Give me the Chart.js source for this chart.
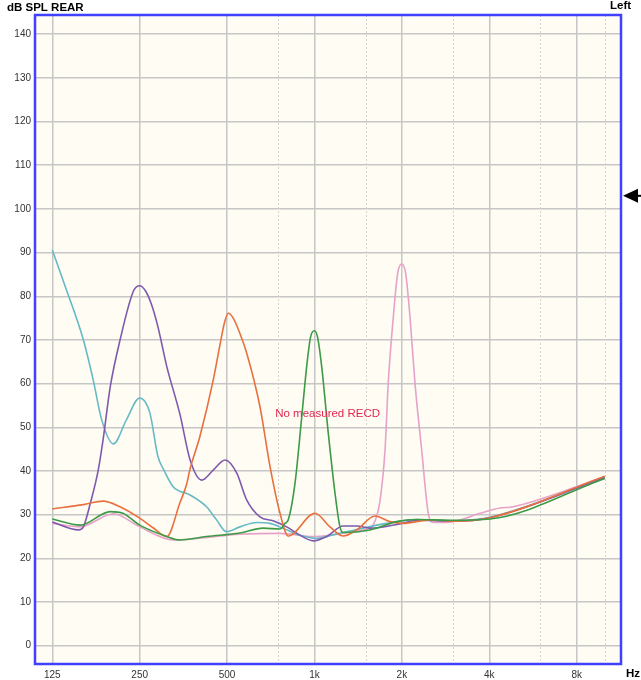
<!DOCTYPE html>
<html>
<head>
<meta charset="utf-8">
<script src="https://cdn.jsdelivr.net/npm/chart.js@4.4.1/dist/chart.umd.min.js"></script>
<style>
  html, body { margin: 0; padding: 0; background: #fff; }
  #wrap { width: 641px; height: 680px; position: relative; }
</style>
</head>
<body>
<div id="wrap"><canvas id="chart"></canvas></div>
<script>
// axis ticks
const xTicks = [125, 250, 500, 1000, 2000, 4000, 8000];
const xTickLabels = ['125', '250', '500', '1k', '2k', '4k', '8k'];
const xHalfOctaves = [750, 1500, 3000, 6000, 10000];
const yTicks = [0, 10, 20, 30, 40, 50, 60, 70, 80, 90, 100, 110, 120, 130, 140];

// marker on the right edge (dB SPL)
const markerLevel = 103;

// curves: frequency (Hz) / level (dB SPL)
const tealFreq  = [125, 140, 160, 173, 185, 203, 225, 250, 271, 289, 303, 326, 373, 425, 460, 497, 554, 632, 703, 779, 891, 1017, 1192, 1469, 1773, 2249, 3006, 4023, 10000];
const tealLevel = [90.6, 81.4, 70, 60.8, 51.7, 46.2, 51.7, 56.7, 53.3, 43.3, 40.2, 36.4, 34.5, 31.8, 28.8, 26.1, 27.2, 28.2, 28, 26.9, 25.3, 24.6, 25.6, 26.9, 28, 28.9, 28.6, 29.4, 38.5];

const purpleFreq  = [125, 154, 160, 169, 180, 187, 198, 214, 238, 250, 262, 275, 289, 310, 344, 373, 409, 448, 492, 540, 584, 649, 720, 802, 891, 991, 1102, 1257, 1398, 1553, 2000, 2249, 3006, 4023, 10000];
const purpleLevel = [28.3, 26.5, 27.2, 32.6, 40.2, 47.1, 59.3, 70, 81.2, 82.4, 81.2, 78, 73, 63.9, 53, 42.5, 37.9, 40.2, 42.5, 39.5, 33.4, 29.5, 28.6, 27.2, 25.3, 24, 25, 27.4, 27.4, 26.9, 28, 28.7, 28.5, 29.3, 38.5];

const orangeFreq  = [125, 160, 187, 214, 250, 278, 310, 344, 363, 372, 403, 448, 473, 490, 505, 525, 546, 584, 649, 703, 761, 812, 1004, 1131, 1257, 1398, 1616, 1820, 2018, 2500, 3006, 4023, 10000];
const orangeLevel = [31.3, 32.3, 33.1, 31.8, 29.2, 27, 25, 32.7, 37, 40.2, 47.9, 60.8, 69, 74, 76.1, 75, 72.5, 67, 54.7, 41, 30.3, 25.1, 30.3, 27.2, 25.1, 26.5, 29.7, 28.4, 28, 28.8, 28.5, 29.3, 38.8];

const greenFreq  = [125, 156, 198, 219, 250, 310, 344, 425, 554, 665, 761, 791, 812, 857, 904, 940, 969, 999, 1025, 1059, 1116, 1177, 1224, 1257, 1553, 1920, 2249, 3006, 4023, 10000];
const greenLevel = [29, 27.6, 30.7, 30.3, 27.6, 25, 24.2, 25, 25.8, 26.9, 26.7, 28, 28.8, 37.2, 52.4, 63.9, 70.6, 72.1, 70.6, 63.9, 48.6, 34.9, 27.2, 25.9, 26.5, 28.4, 28.9, 28.7, 29, 38.3];

const pinkFreq  = [125, 156, 203, 250, 326, 554, 761, 991, 1469, 1553, 1616, 1680, 1750, 1795, 1869, 1935, 1997, 2060, 2133, 2219, 2340, 2466, 2565, 3006, 3716, 4354, 4826, 10000];
const pinkLevel = [28, 27.2, 30.2, 27.2, 24.2, 25.5, 25.7, 25, 26.5, 26.9, 28.5, 33, 44.8, 60.1, 75.3, 85.3, 87.4, 85.3, 75.3, 60.1, 44.8, 30.3, 28.2, 28.4, 30.3, 31.5, 31.8, 38.7];

const FONT = '"Liberation Sans", Arial, sans-serif';

function toPoints(freq, level) {
  return freq.map((f, i) => ({ x: f, y: level[i] }));
}

function series(freq, level, color) {
  return {
    data: toPoints(freq, level),
    borderColor: color,
    borderWidth: 1.6,
    pointRadius: 0,
    fill: false,
    cubicInterpolationMode: 'monotone'
  };
}

const audioPlugin = {
  id: 'audio',
  beforeDraw(chart) {
    const { ctx, chartArea: a } = chart;
    ctx.save();
    ctx.fillStyle = '#fffcf4';
    ctx.fillRect(a.left, a.top, a.right - a.left, a.bottom - a.top);
    ctx.restore();
  },
  beforeDatasetsDraw(chart) {
    // dotted half-octave lines
    const { ctx, chartArea: a, scales } = chart;
    ctx.save();
    ctx.strokeStyle = '#d2d2d2';
    ctx.lineWidth = 1;
    ctx.setLineDash([2, 2]);
    xHalfOctaves.forEach(f => {
      const px = Math.round(scales.x.getPixelForValue(f)) + 0.5;
      ctx.beginPath();
      ctx.moveTo(px, a.top);
      ctx.lineTo(px, a.bottom);
      ctx.stroke();
    });
    ctx.restore();
  },
  afterDraw(chart) {
    const { ctx, chartArea: a, scales } = chart;
    ctx.save();
    // note in the middle
    ctx.fillStyle = '#e3264f';
    ctx.font = '11.5px ' + FONT;
    ctx.textAlign = 'center';
    ctx.textBaseline = 'middle';
    ctx.fillText('No measured RECD', scales.x.getPixelForValue(1110), scales.y.getPixelForValue(53));

    // blue frame
    ctx.strokeStyle = '#4040ff';
    ctx.lineWidth = 2.5;
    ctx.strokeRect(a.left, a.top, a.right - a.left, a.bottom - a.top);

    // titles
    ctx.fillStyle = '#000';
    ctx.textAlign = 'left';
    ctx.textBaseline = 'alphabetic';
    ctx.font = 'bold 11.5px ' + FONT;
    ctx.fillText('dB SPL REAR', 7, 11);
    ctx.fillText('Left', 610, 9);
    ctx.fillText('Hz', 626, 677);

    // arrow marker
    const my = scales.y.getPixelForValue(markerLevel);
    ctx.beginPath();
    ctx.moveTo(a.right + 2, my);
    ctx.lineTo(a.right + 17, my - 7);
    ctx.lineTo(a.right + 17, my + 7);
    ctx.closePath();
    ctx.fill();
    ctx.fillRect(a.right + 16, my - 1, 641 - a.right - 16, 2);
    ctx.restore();
  }
};

new Chart(document.getElementById('chart'), {
  type: 'line',
  data: {
    datasets: [
      series(greenFreq, greenLevel, '#3d9a47'),
      series(orangeFreq, orangeLevel, '#e8703f'),
      series(purpleFreq, purpleLevel, '#7e5aaf'),
      series(tealFreq, tealLevel, '#66bac4'),
      series(pinkFreq, pinkLevel, '#e6a2c8')
    ]
  },
  options: {
    responsive: true,
    maintainAspectRatio: false,
    animation: false,
    layout: { padding: { top: 15, right: 20, left: 0, bottom: 0 } },
    plugins: { legend: { display: false }, tooltip: { enabled: false } },
    scales: {
      x: {
        type: 'logarithmic',
        min: 109,
        max: 11370,
        afterBuildTicks: s => { s.ticks = xTicks.map(v => ({ value: v })); },
        afterFit: s => { s.height = 16; },
        grid: { color: '#c6c6c6', lineWidth: 1.5, drawTicks: false },
        border: { display: false },
        ticks: {
          autoSkip: false,
          maxRotation: 0,
          padding: 5,
          color: '#333',
          font: { family: FONT, size: 10 },
          callback: (v, i) => xTickLabels[i]
        }
      },
      y: {
        type: 'linear',
        min: -4.2,
        max: 144.4,
        afterBuildTicks: s => { s.ticks = yTicks.map(v => ({ value: v })); },
        afterFit: s => { s.width = 35; },
        grid: { color: '#c6c6c6', lineWidth: 1.5, drawTicks: false },
        border: { display: false },
        ticks: {
          padding: 4,
          color: '#333',
          font: { family: FONT, size: 10 }
        }
      }
    }
  },
  plugins: [audioPlugin]
});
</script>
</body>
</html>
